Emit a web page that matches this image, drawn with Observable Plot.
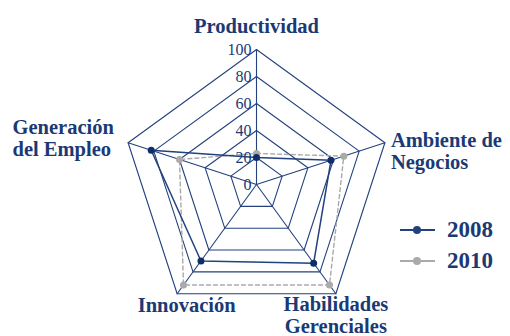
<!DOCTYPE html>
<html><head><meta charset="utf-8">
<script src="https://cdn.jsdelivr.net/npm/d3@7"></script>
<script src="https://cdn.jsdelivr.net/npm/@observablehq/plot@0.6"></script>
<style>
body{margin:0;background:#fff}
#wrap{position:relative;width:510px;height:336px;font-family:"Liberation Serif","Times New Roman",Tinos,"DejaVu Serif",serif}
#wrap svg text{font-family:"Liberation Serif","Times New Roman",Tinos,"DejaVu Serif",serif}
#legend{position:absolute;left:400px;top:214px}
.item{display:flex;align-items:center;height:31.5px}
.item span{font-weight:bold;font-size:23px;color:#1b3a73;margin-left:12px}
</style>
</head><body><div id="wrap"></div>
<script>
const axes = ["Productividad","Ambiente de Negocios","Habilidades Gerenciales","Innovación","Generación del Empleo"];
const axisLabelLines = [["Productividad"],["Ambiente de","Negocios"],["Habilidades","Gerenciales"],["Innovación"],["Generación","del Empleo"]];
const ticks = [0,20,40,60,80,100];
const series = ["2008","2010"];
const values2008 = [20,58,72,70,82];
const values2010 = [23,68,92,92,60];

const NAVY = "#22417d", TEXT = "#1a3a75", GRAY = "#aaaaaa";
const FONT = '"Liberation Serif","Times New Roman",Tinos,"DejaVu Serif",serif';
const W = 510, H = 336, CX = 256, CY = 184, R = 135;
const k = R / 100; // px per value unit
const ang = i => Math.PI/2 - i * 2*Math.PI/axes.length;
const pt = (i, v) => ({x: v*Math.cos(ang(i)), y: v*Math.sin(ang(i))});

const rings = ticks.flatMap(t => axes.map((a,i) => ({tick:t, ...pt(i,t)})));
const spokes = axes.flatMap((a,i) => [{axis:a, ...pt(i,0)}, {axis:a, ...pt(i,100)}]);
const seriesData = [
  ...values2008.map((v,i) => ({year:series[0], axis:axes[i], ...pt(i,v)})),
  ...values2010.map((v,i) => ({year:series[1], axis:axes[i], ...pt(i,v)}))
];
const tickLabels = ticks.map(t => ({t, ...pt(0,t)}));

// label layout: pixel offsets from outer vertex, anchor
const layout = [
  {dx:0, dy:-23, anchor:"middle"},
  {dx:6, dy:-2, anchor:"start"},
  {dx:0, dy:11, anchor:"middle"},
  {dx:9.5, dy:12, anchor:"middle"},
  {dx:-115.6, dy:-15.6, anchor:"start"}
];
const LH = 22;
const labels = axisLabelLines.flatMap((lines,i) => lines.map((s,j) => {
  const p = pt(i,100);
  return {text:s, anchor:layout[i].anchor, x:p.x + layout[i].dx/k, y:p.y - (layout[i].dy + j*LH)/k};
}));

const chart = Plot.plot({
  width: W, height: H, margin: 0,
  x: {domain: [-CX/k, (W-CX)/k], axis: null},
  y: {domain: [-(H-CY)/k, CY/k], axis: null},
  style: {fontFamily: FONT, background: "#fff"},
  marks: [
    Plot.line(rings, {x:"x", y:"y", z:"tick", curve:"linear-closed", stroke:NAVY, strokeWidth:1.1}),
    Plot.line(spokes, {x:"x", y:"y", z:"axis", stroke:NAVY, strokeWidth:1.1}),
    Plot.line(seriesData.filter(d=>d.year===series[1]), {x:"x", y:"y", curve:"linear-closed", stroke:GRAY, strokeWidth:1.4, strokeDasharray:"4,3"}),
    Plot.dot(seriesData.filter(d=>d.year===series[1]), {x:"x", y:"y", r:3.5, fill:GRAY}),
    Plot.line(seriesData.filter(d=>d.year===series[0]), {x:"x", y:"y", curve:"linear-closed", stroke:NAVY, strokeWidth:1.5}),
    Plot.dot(seriesData.filter(d=>d.year===series[0]), {x:"x", y:"y", r:3.5, fill:"#0f2d66"}),
    Plot.text(tickLabels, {x:"x", y:"y", text:d=>String(d.t), textAnchor:"end", dx:-5, fontSize:16, fill:TEXT}),
    Plot.text(labels.filter(d=>d.anchor==="middle"), {x:"x", y:"y", text:"text", textAnchor:"middle", fontSize:20.5, fontWeight:"bold", fill:TEXT}),
    Plot.text(labels.filter(d=>d.anchor==="start"), {x:"x", y:"y", text:"text", textAnchor:"start", fontSize:20.5, fontWeight:"bold", fill:TEXT})
  ]
});
const wrap = document.getElementById("wrap");
wrap.appendChild(chart);

const legend = document.createElement("div");
legend.id = "legend";
const colors = [NAVY, GRAY];
series.forEach((s,i) => {
  const it = document.createElement("div");
  it.className = "item";
  it.innerHTML = `<svg width="35" height="10"><line x1="0" x2="35" y1="5" y2="5" stroke="${colors[i]}" stroke-width="2"/><circle cx="17" cy="5" r="4" fill="${colors[i]}"/></svg><span>${s}</span>`;
  legend.appendChild(it);
});
wrap.appendChild(legend);
</script>
</body></html>
